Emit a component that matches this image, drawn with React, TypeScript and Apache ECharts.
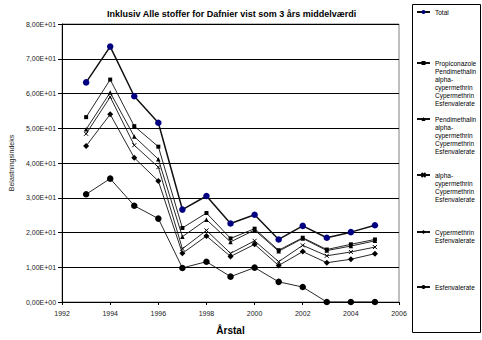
import React, { useEffect, useRef } from "react";
import * as echarts from "echarts";

const years = [1993, 1994, 1995, 1996, 1997, 1998, 1999, 2000, 2001, 2002, 2003, 2004, 2005];
const total = [63.2, 73.5, 59.2, 51.6, 26.6, 30.5, 22.6, 25.1, 18.0, 21.9, 18.5, 20.1, 22.1];
const propi = [53.2, 64.0, 50.6, 44.7, 21.3, 25.6, 18.3, 21.1, 14.9, 18.5, 15.1, 16.6, 18.0];
const pendi = [49.7, 60.3, 47.6, 41.1, 18.8, 23.7, 17.3, 20.7, 14.6, 18.3, 14.8, 16.1, 17.6];
const alpha = [48.4, 59.0, 45.1, 38.8, 15.3, 20.6, 14.0, 17.6, 11.6, 16.3, 13.3, 14.4, 15.8];
const cyper = [44.9, 54.0, 41.5, 34.8, 14.0, 19.0, 13.1, 16.6, 10.5, 14.5, 11.3, 12.3, 13.9];
const esfen = [31.0, 35.5, 27.7, 24.0, 9.8, 11.6, 7.3, 9.9, 5.8, 4.3, 0, 0, 0];

const seriesNames = [
  "Total",
  "Propiconazole\nPendimethalin\nalpha-\ncypermethrin\nCypermethrin\nEsfenvalerate",
  "Pendimethalin\nalpha-\ncypermethrin\nCypermethrin\nEsfenvalerate",
  "alpha-\ncypermethrin\nCypermethrin\nEsfenvalerate",
  "Cypermethrin\nEsfenvalerate",
  "Esfenvalerate",
];
const legendIconY = [12, 63, 119, 175, 232, 287];

const FONT = "Liberation Sans, Arial, sans-serif";

function sci(v: number): string {
  if (v === 0) return "0,00E+00";
  const e = Math.floor(Math.log10(Math.abs(v)));
  const m = v / Math.pow(10, e);
  const es = (e >= 0 ? "+" : "-") + String(Math.abs(e)).padStart(2, "0");
  return m.toFixed(2).replace(".", ",") + "E" + es;
}

export default function App() {
  const ref = useRef<HTMLDivElement>(null);
  useEffect(() => {
    document.body.style.margin = "0";
    const chart = echarts.init(ref.current!, null, { renderer: "svg" });
    const datas = [total, propi, pendi, alpha, cyper, esfen];
    const symbols = [
      "circle",
      "rect",
      "triangle",
      "path://M0,0L10,10M10,0L0,10",
      "diamond",
      "circle",
    ];
    const sizes = [6.5, 4, 4.5, 4, 6, 6.5];
    const LH = 8;
    const series = datas.map((d, i) => ({
      name: seriesNames[i],
      type: "line",
      data: years.map((y, j) => [y, d[j]]),
      symbol: symbols[i],
      symbolSize: sizes[i],
      showSymbol: true,
      lineStyle: { color: "#111", width: i === 0 ? 1.5 : 0.9 },
      itemStyle: {
        color: i === 0 ? "#000080" : "#000",
        borderColor: i === 0 ? "#000080" : "#000",
        borderWidth: i === 3 ? 1 : 0,
      },
      z: 10 - i,
    }));
    const legends = seriesNames.map((n, i) => {
      const lines = n.split("\n");
      const cnt = lines.length;
      return {
        data: [n],
        orient: "vertical",
        left: 416,
        top: legendIconY[i] - (2 * cnt - 1) * (LH / 2),
        padding: 0,
        itemWidth: 13,
        itemHeight: 5,
        selectedMode: false,
        formatter: () =>
          (cnt > 1 ? "{sp|}\n" : "") + lines.map((l) => "{t|" + l + "}").join("\n"),
        textStyle: {
          fontFamily: FONT,
          fontSize: 6.5,
          color: "#000",
          lineHeight: LH,
          rich: {
            t: { fontFamily: FONT, fontSize: 6.5, color: "#000", lineHeight: LH },
            sp: { height: (cnt - 1) * LH, lineHeight: (cnt - 1) * LH },
          },
        },
      };
    });
    chart.setOption({
      animation: false,
      title: {
        text: "Inklusiv Alle stoffer for Dafnier vist som 3 års middelværdi",
        left: 107,
        top: 9,
        padding: 0,
        textStyle: { fontFamily: FONT, fontSize: 9, fontWeight: "bold", color: "#000" },
      },
      grid: {
        left: 56,
        right: 83,
        top: 24,
        bottom: 37,
        show: true,
        borderColor: "#808080",
        borderWidth: 1,
      },
      legend: legends,
      xAxis: {
        type: "value",
        min: 1992,
        max: 2006,
        interval: 2,
        name: "Årstal",
        nameLocation: "middle",
        nameGap: 23,
        nameTextStyle: { fontFamily: FONT, fontSize: 10, fontWeight: "bold", color: "#000" },
        axisLine: { lineStyle: { color: "#000", width: 1 } },
        axisTick: { show: true, length: 3, lineStyle: { color: "#000" } },
        axisLabel: { fontFamily: FONT, fontSize: 7, color: "#222", margin: 8, formatter: (v: number) => String(v) },
        splitLine: { show: false },
      },
      yAxis: {
        type: "value",
        min: 0,
        max: 80,
        interval: 10,
        name: "Belastningsindeks",
        nameLocation: "middle",
        nameGap: 45,
        nameTextStyle: { fontFamily: FONT, fontSize: 7, color: "#222" },
        axisLine: { show: true, lineStyle: { color: "#000", width: 1 } },
        axisTick: { show: true, length: 4, lineStyle: { color: "#000" } },
        axisLabel: { fontFamily: FONT, fontSize: 7, color: "#222", margin: 6, formatter: (v: number) => sci(v) },
        splitLine: { show: true, lineStyle: { color: "#000", width: 1 } },
      },
      graphic: [
        {
          type: "rect",
          shape: { x: 412.5, y: 4.5, width: 68, height: 328 },
          style: { fill: "none", stroke: "#000", lineWidth: 1 },
          silent: true,
        },
      ],
      series,
    });
    return () => chart.dispose();
  }, []);
  return <div ref={ref} style={{ width: 482, height: 340 }} />;
}
